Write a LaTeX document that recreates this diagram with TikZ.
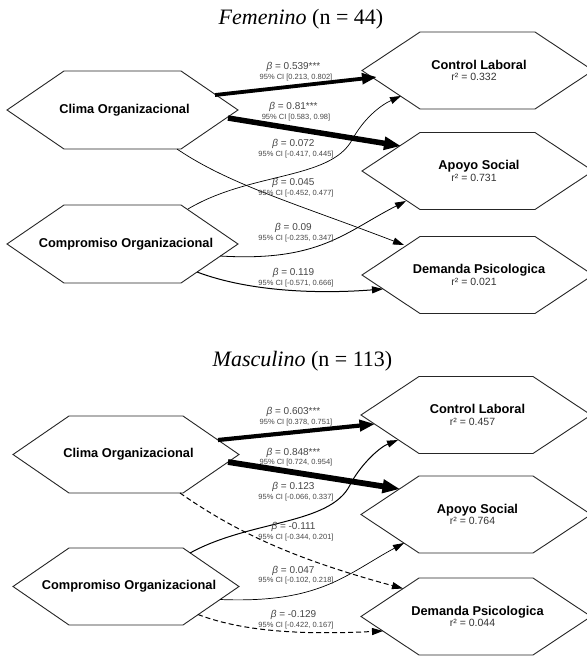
\documentclass[tikz,border=0pt]{standalone}
\usepackage{fontspec}
\setmainfont{Liberation Sans}
\newfontfamily\titleserif{Liberation Serif}
\usetikzlibrary{arrows.meta,calc}
\newcommand\myrsq{\fontsize{10.5}{12}\selectfont\mdseries\color{black!80}}
\begin{document}
\begin{tikzpicture}[x=1pt,y=-1pt,
  hexbox/.style={rectangle, inner sep=0pt, align=center,
    font=\fontsize{12.8}{11.7}\selectfont\bfseries},
  hexline/.style={draw=black!85, line width=0.9pt, line join=miter},
  titlelab/.style={anchor=base, inner sep=0pt, font=\titleserif\fontsize{22}{26}\selectfont},
  betalab/.style={anchor=base, inner sep=0pt, font=\fontsize{10}{12}\selectfont, text=black!72},
  cilab/.style={anchor=base, inner sep=0pt, font=\fontsize{7.5}{9}\selectfont, text=black!72},
  conn/.style={draw=black, line width=0.8pt, -{Triangle[length=11pt,width=7pt]}},
  dashconn/.style={conn, dash pattern=on 5pt off 3pt},
  bigconn/.style={draw=black, line width=#1, line cap=butt}
]
\useasboundingbox (0,0) rectangle (587,657);
\fill[white] (0,0) rectangle (587,657);
\clip (0,0) rectangle (587,657);

% ---------- titles ----------
\node[titlelab] (t1) at (301,24) {\textit{Femenino} (n = 44)};
\node[titlelab] (t2) at (302.5,366.5) {\textit{Masculino} (n = 113)};

% ---------- top panel nodes ----------
\node[hexbox] (clima) at (124.5,110) {Clima Organizacional};
\node[hexbox] (comp) at (126,244) {Compromiso Organizacional};
\node[hexbox] (control) at (479,70.5)
  {Control Laboral\\{\myrsq\hspace*{-10pt}r² = 0.332}};
\node[hexbox] (apoyo) at (479,171)
  {Apoyo Social\\{\myrsq\hspace*{-10pt}r² = 0.731}};
\node[hexbox] (demanda) at (479,275)
  {Demanda Psicologica\\{\myrsq\hspace*{-10pt}r² = 0.021}};

% ---------- bottom panel nodes ----------
\node[hexbox] (clima2) at (128.5,454.5) {Clima Organizacional};
\node[hexbox] (comp2) at (129,586.5) {Compromiso Organizacional};
\node[hexbox] (control2) at (477.5,415)
  {Control Laboral\\{\myrsq\hspace*{-10pt}r² = 0.457}};
\node[hexbox] (apoyo2) at (477.5,514.5)
  {Apoyo Social\\{\myrsq\hspace*{-10pt}r² = 0.764}};
\node[hexbox] (demanda2) at (477.5,616.5)
  {Demanda Psicologica\\{\myrsq\hspace*{-10pt}r² = 0.044}};

% ---------- hexagon outlines (centre, half top edge, half height, tip depth) ----------
\foreach \cx/\cy/\a/\h/\d in {122.5/110/58.5/39/57, 122.5/244/58.5/39/57,
    477.5/70.5/57.5/38.5/58, 477.5/171/57.5/38.5/58, 477.5/275/57.5/38.5/58,
    126/454.5/57/38.5/56, 126/586.5/57/38.5/56,
    476/415/57/38.5/58, 476/514.5/57/38.5/58, 476/616.5/57/38.5/58}
  \draw[hexline] (\cx-\a,\cy-\h) -- (\cx+\a,\cy-\h) -- (\cx+\a+\d,\cy)
    -- (\cx+\a,\cy+\h) -- (\cx-\a,\cy+\h) -- (\cx-\a-\d,\cy) -- cycle;

% ---------- top panel connectors ----------
\draw[bigconn=3.8pt, -{Triangle[length=15pt,width=10.5pt]}]
  ($(clima)+(90.5,-15)$) -- ($(control)+(-102,6.5)$);
\draw[bigconn=5.5pt, -{Triangle[length=17pt,width=12.5pt]}]
  ($(clima)+(103.5,8)$) -- ($(apoyo)+(-78,-25)$);
\draw[conn, line width=0.7pt]
  ($(clima)+(52.5,39)$) .. controls +(53,36) and +(-104,-40) .. ($(demanda)+(-75,-30)$);
\draw[conn, line width=0.7pt]
  ($(comp)+(62,-35)$) .. controls +(62,-37) and +(-22,40) .. (352,140)
  .. controls +(12,-22) and +(-20,9) .. ($(control)+(-78,25.5)$);
\draw[conn, line width=0.8pt]
  ($(comp)+(94,12)$) .. controls +(100,6) and +(-61,31) .. ($(apoyo)+(-73,30)$);
\draw[conn, line width=1pt]
  ($(comp)+(71,28)$) .. controls +(53,20) and +(-63,5) .. ($(demanda)+(-96,14)$);

% ---------- top panel labels ----------
\node[betalab] (b1) at (293.5,69.6) {\textit{β} = 0.539***};
\node[cilab] (c1) at (296,79.7) {95\% CI [0.213, 0.802]};
\node[betalab] (b2) at (293.5,109.6) {\textit{β} = 0.81***};
\node[cilab] (c2) at (296,119.7) {95\% CI [0.583, 0.98]};
\node[betalab] (b3) at (293.5,146.6) {\textit{β} = 0.072};
\node[cilab] (c3) at (296,156.7) {95\% CI [-0.417, 0.445]};
\node[betalab] (b4) at (293.5,185.6) {\textit{β} = 0.045};
\node[cilab] (c4) at (296,195.7) {95\% CI [-0.452, 0.477]};
\node[betalab] (b5) at (293.5,230.6) {\textit{β} = 0.09};
\node[cilab] (c5) at (296,240.7) {95\% CI [-0.235, 0.347]};
\node[betalab] (b6) at (293.5,275.6) {\textit{β} = 0.119};
\node[cilab] (c6) at (296,285.7) {95\% CI [-0.571, 0.666]};

% ---------- bottom panel connectors ----------
\draw[bigconn=4.2pt, -{Triangle[length=15.5pt,width=11pt]}]
  ($(clima2)+(89.5,-14.5)$) -- ($(control2)+(-102.5,9)$);
\draw[bigconn=5.8pt, -{Triangle[length=17.5pt,width=13pt]}]
  ($(clima2)+(99.5,7.5)$) -- ($(apoyo2)+(-77.5,-25.5)$);
\draw[dashconn, line width=1pt]
  ($(clima2)+(51.5,38.5)$) .. controls +(60,42) and +(-103,-28) .. ($(demanda2)+(-74.5,-28)$);
\draw[conn, line width=1pt]
  ($(comp2)+(61,-33.5)$) .. controls +(60,-33) and +(-20,40) .. (350,485)
  .. controls +(9,-18) and +(-20,8) .. ($(control2)+(-79.5,25)$);
\draw[conn, line width=0.7pt]
  ($(comp2)+(91,13)$) .. controls +(100,4) and +(-59,32) .. ($(apoyo2)+(-73.5,28.5)$);
\draw[dashconn, line width=1pt]
  ($(comp2)+(69,28)$) .. controls +(52,20) and +(-63,3) .. ($(demanda2)+(-94.5,14.5)$);

% ---------- bottom panel labels ----------
\node[betalab] (b7) at (293.5,414.6) {\textit{β} = 0.603***};
\node[cilab] (c7) at (296,424.7) {95\% CI [0.378, 0.751]};
\node[betalab] (b8) at (293.5,455.6) {\textit{β} = 0.848***};
\node[cilab] (c8) at (296,464.7) {95\% CI [0.724, 0.954]};
\node[betalab] (b9) at (293.5,489.6) {\textit{β} = 0.123};
\node[cilab] (c9) at (296,499.7) {95\% CI [-0.066, 0.337]};
\node[betalab] (b10) at (293.5,529.6) {\textit{β} = -0.111};
\node[cilab] (c10) at (296,539.7) {95\% CI [-0.344, 0.201]};
\node[betalab] (b11) at (293.5,573.1) {\textit{β} = 0.047};
\node[cilab] (c11) at (296,582.7) {95\% CI [-0.102, 0.218]};
\node[betalab] (b12) at (293.5,617.6) {\textit{β} = -0.129};
\node[cilab] (c12) at (296,627.2) {95\% CI [-0.422, 0.167]};
\end{tikzpicture}
\end{document}
